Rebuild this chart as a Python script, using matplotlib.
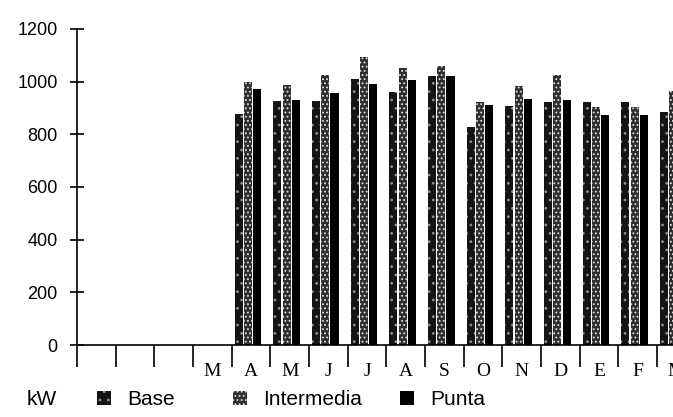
import numpy as np
import matplotlib.pyplot as plt
from matplotlib.patches import Patch

# month labels along the axis (first three slots are blank)
months = ['', '', '', 'M', 'A', 'M', 'J', 'J', 'A', 'S', 'O', 'N', 'D', 'E', 'F', 'M']

# demand per tariff period [kW]
base = [0, 0, 0, 0, 877, 926, 926, 1009, 959, 1022, 826, 906, 922, 922, 922, 883]
intermedia = [0, 0, 0, 0, 999, 989, 1025, 1092, 1052, 1061, 921, 984, 1025, 902, 905, 965]
punta = [0, 0, 0, 0, 971, 932, 957, 990, 1006, 1021, 913, 936, 930, 873, 873, 940]

yticks = [0, 200, 400, 600, 800, 1000, 1200]

plt.rcParams['hatch.linewidth'] = 0.8

# bar fills: speckled for base / intermedia, solid for punta
sty_base = dict(facecolor='#141414', edgecolor='#8c8c8c', hatch='..', linewidth=0)
sty_int = dict(facecolor='#2e2e2e', edgecolor='#e0e0e0', hatch='....', linewidth=0)
sty_punta = dict(facecolor='black', linewidth=0)

fig = plt.figure(figsize=(6.73, 4.17), dpi=100)
# axes runs a bit past the right edge, the last month is cut
ax = fig.add_axes([77/673, 72/417, 16*38.67/673, 316/417])

x = np.arange(len(months))
w = 0.21
ax.bar(x + 0.18, base, w, **sty_base)
ax.bar(x + 0.42, intermedia, w, **sty_int)
ax.bar(x + 0.66, punta, w, **sty_punta)

ax.set_xlim(0, len(months))
ax.set_ylim(0, 1200)

for s in ['top', 'right']:
    ax.spines[s].set_visible(False)
for s in ['left', 'bottom']:
    ax.spines[s].set_linewidth(1.2)

# y axis
ax.set_yticks(yticks)
ax.tick_params(axis='y', direction='inout', length=10, width=1.2, pad=9,
               labelsize=13)
for t in ax.get_yticklabels():
    t.set_family('Liberation Sans')

# x axis: month names centred, separators below the axis
ax.set_xticks(x + 0.5, months)
ax.tick_params(axis='x', which='major', length=0, pad=13, labelsize=14)
for t in ax.get_xticklabels():
    t.set_family('Liberation Serif')
ax.set_xticks(x, minor=True)
ax.tick_params(axis='x', which='minor', direction='out', length=16, width=1.2)

# legend row
fig.text(27/673, 0.041, 'kW', fontsize=15, family='Liberation Sans', va='center')
items = [
    (97, Patch(**sty_base), 'Base'),
    (233, Patch(**sty_int), 'Intermedia'),
    (400, Patch(**sty_punta), 'Punta'),
]
for px, h, lab in items:
    fig.legend(handles=[h], labels=[lab], loc='center left',
               bbox_to_anchor=(px/673, 0.041), frameon=False, borderpad=0,
               borderaxespad=0, handlelength=0.65, handleheight=0.65,
               handletextpad=0.8, prop={'family': 'Liberation Sans', 'size': 15})

fig.savefig('out.png', dpi=100)
